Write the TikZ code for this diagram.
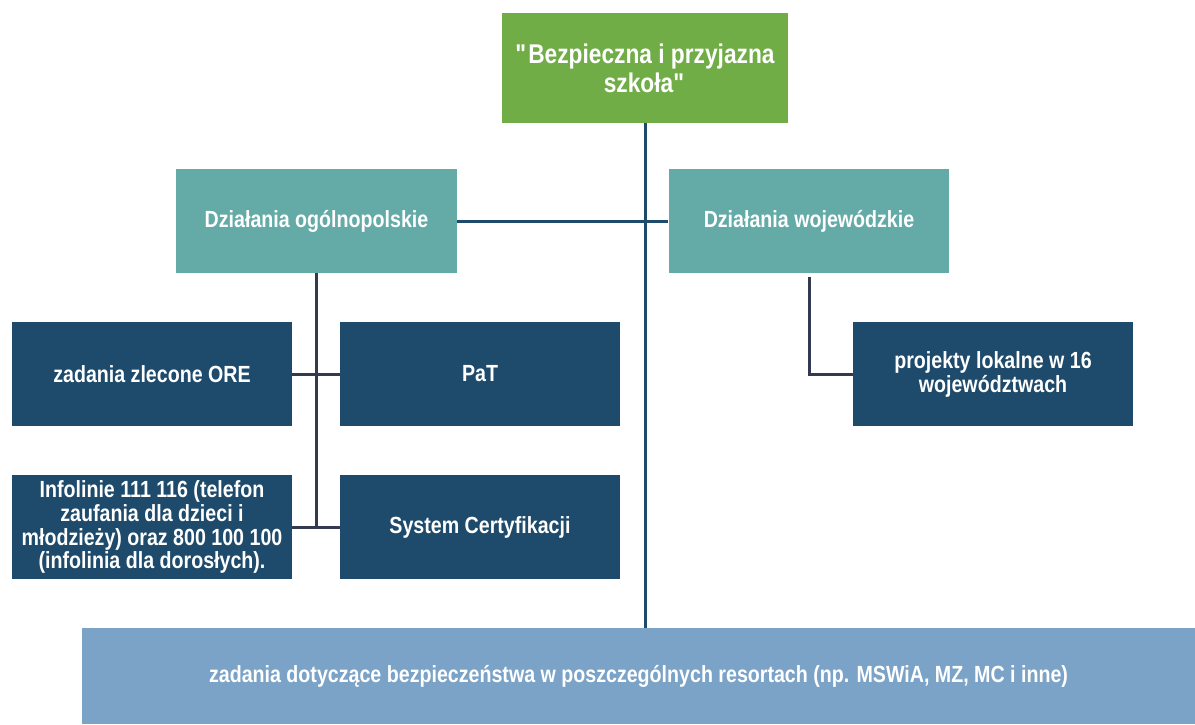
\documentclass[tikz,border=0pt]{standalone}
\usepackage{fontspec}
\setmainfont{Liberation Sans}[FakeStretch=0.84]
\usepackage{tikz}

\xdefinecolor{zielony}{RGB}{112, 173, 71}
\xdefinecolor{morski}{RGB}{100, 171, 168}
\xdefinecolor{granat}{RGB}{30, 74, 107}
\xdefinecolor{niebieski}{RGB}{123, 163, 199}
\xdefinecolor{linia}{RGB}{51, 58, 80}

\tikzset{
    box/.style={rectangle, text=white, font=\bfseries\fontsize{13.3}{13.6}\selectfont, align=center, inner sep=2pt},
    topbox/.style={box, fill=zielony, minimum width=5.72cm, minimum height=2.2cm, font=\bfseries\fontsize{15.4}{16.6}\selectfont},
    midbox/.style={box, fill=morski, minimum width=5.62cm, minimum height=2.08cm},
    leafbox/.style={box, fill=granat, minimum width=5.6cm, minimum height=2.08cm},
    basebox/.style={box, fill=niebieski, minimum width=22.26cm, minimum height=1.92cm},
    trunk/.style={line width=1.7pt, granat},
    branch/.style={line width=1.7pt, linia}
}

\begin{document}
\begin{tikzpicture}[x=0.02cm, y=-0.02cm]
            \useasboundingbox (0, 0) rectangle (1195, 724);
            % Draw top box
            \node[topbox] (Szkola) at (645, 68) {\textquotedbl Bezpieczna i przyjazna\\szkoła\textquotedbl};
            % Draw second level
            \node[midbox] (Ogolne) at (316.5, 221) {Działania ogólnopolskie};
            \node[midbox] (Woj) at (809, 221) {Działania wojewódzkie};
            % Draw leaves on the left
            \node[leafbox] (ORE) at (152, 374) {zadania zlecone ORE};
            \node[leafbox] (PaT) at (480, 374) {PaT};
            \node[leafbox] (Info) at (152, 527) {Infolinie 111 116 (telefon\\zaufania dla dzieci i\\młodzieży) oraz 800 100 100\\(infolinia dla dorosłych).};
            \node[leafbox] (Cert) at (480, 527) {System Certyfikacji};
            % Draw leaf on the right
            \node[leafbox] (Lokal) at (993, 374) {projekty lokalne w 16\\województwach};
            % Draw bottom box
            \node[basebox] (Resorty) at (638.5, 676) {zadania dotyczące bezpieczeństwa w poszczególnych resortach (np. MSWiA, MZ, MC i inne)};

            % Connect top box to the bottom box
            \draw[trunk] (Szkola.south) -- (Szkola.south |- Resorty.north);
            \draw[trunk] (Ogolne.east) -- (Woj.west);

            % Add lines of the left subtree
            \draw[branch] (Ogolne.south) -- (Ogolne.south |- Cert.west);
            \draw[branch] (ORE.east) -- (PaT.west);
            \draw[branch] (Info.east) -- (Cert.west);

            % Add elbow on the right
            \draw[branch] ([yshift=-0.08cm]Woj.south) |- (Lokal.west);
        \end{tikzpicture}
\end{document}
